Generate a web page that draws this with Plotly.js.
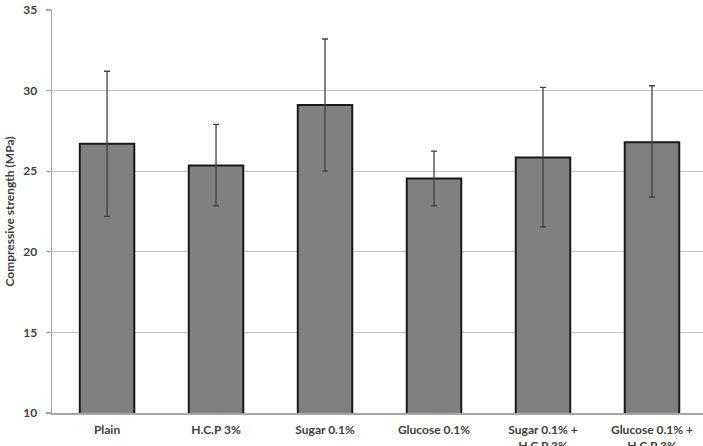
<!DOCTYPE html>
<html>
<head>
<meta charset="utf-8">
<script src="https://cdn.plot.ly/plotly-3.0.1.min.js"></script>
<style>html,body{margin:0;padding:0;background:#fff;}#chart{width:703px;height:446px;}</style>
</head>
<body>
<div id="chart"></div>
<script>
const categories = ["Plain", "H.C.P 3%", "Sugar 0.1%", "Glucose 0.1%", "Sugar 0.1% +<br>H.C.P 3%", "Glucose 0.1% +<br>H.C.P 3%"];
const strength = [26.7, 25.35, 29.1, 24.55, 25.85, 26.8];
const errorPlus = [4.5, 2.55, 4.1, 1.7, 4.35, 3.5];
const errorMinus = [4.5, 2.5, 4.1, 1.7, 4.3, 3.4];
const yTicks = [10, 15, 20, 25, 30, 35];

const fontFam = "Lato, 'Open Sans', sans-serif";
const trace = {
  type: "bar",
  x: categories.map((c, i) => i),
  y: strength,
  base: 0,
  width: 0.5,
  marker: {color: "#808080", line: {color: "#1a1a1a", width: 2}},
  error_y: {type: "data", symmetric: false, array: errorPlus, arrayminus: errorMinus,
            color: "#404040", thickness: 1.3, width: 3},
  hoverinfo: "none"
};
const layout = {
  width: 703, height: 446,
  margin: {l: 52, r: 0, t: 10, b: 33},
  paper_bgcolor: "#ffffff", plot_bgcolor: "#ffffff",
  showlegend: false,
  bargap: 0.5,
  xaxis: {
    range: [-0.505, 5.468],
    tickmode: "array", tickvals: categories.map((c, i) => i), ticktext: categories,
    showgrid: false, zeroline: false,
    showline: true, linecolor: "#a6a6a6", linewidth: 1.5,
    ticks: "", tickangle: 0,
    ticklabelstandoff: 5,
    tickfont: {family: fontFam, size: 12, color: "#404040", weight: "bold"}
  },
  yaxis: {
    range: [10, 35],
    tickmode: "array", tickvals: yTicks, ticktext: yTicks.map(String),
    showgrid: true, gridcolor: "#c4c4c4", gridwidth: 1.3,
    zeroline: false,
    showline: true, linecolor: "#a6a6a6", linewidth: 1.5,
    ticks: "outside", ticklen: 5, tickcolor: "#a6a6a6", tickwidth: 1.3,
    ticklabelstandoff: 6,
    tickfont: {family: fontFam, size: 12, color: "#404040", weight: "bold"},
    title: {text: "Compressive strength (MPa)", standoff: 6,
            font: {family: fontFam, size: 12, color: "#404040", weight: "bold"}}
  }
};
Plotly.newPlot("chart", [trace], layout, {staticPlot: true, displayModeBar: false});
</script>
</body>
</html>
